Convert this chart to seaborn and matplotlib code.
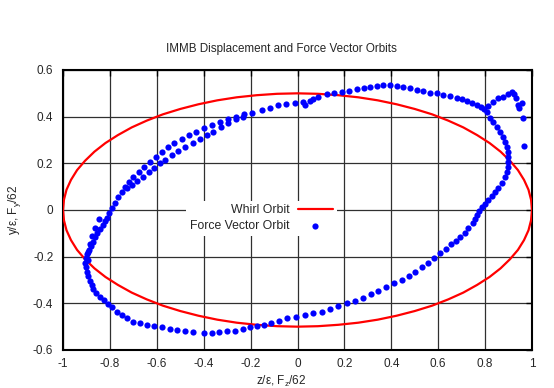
import numpy as np
import pandas as pd
import matplotlib
matplotlib.use("Agg")
import matplotlib.pyplot as plt
import seaborn as sns

# ---------------- data ----------------
whirl_z = [1.000, 0.996, 0.985, 0.966, 0.940, 0.906, 0.866, 0.819, 0.766, 0.707,
           0.643, 0.574, 0.500, 0.423, 0.342, 0.259, 0.174, 0.087, 0.000,
           -0.087, -0.174, -0.259, -0.342, -0.423, -0.500, -0.574, -0.643, -0.707,
           -0.766, -0.819, -0.866, -0.906, -0.940, -0.966, -0.985, -0.996, -1.000,
           -0.996, -0.985, -0.966, -0.940, -0.906, -0.866, -0.819, -0.766, -0.707,
           -0.643, -0.574, -0.500, -0.423, -0.342, -0.259, -0.174, -0.087, 0.000,
           0.087, 0.174, 0.259, 0.342, 0.423, 0.500, 0.574, 0.643, 0.707,
           0.766, 0.819, 0.866, 0.906, 0.940, 0.966, 0.985, 0.996, 1.000]
whirl_y = [0.000, 0.044, 0.087, 0.129, 0.171, 0.211, 0.250, 0.287, 0.321, 0.354,
           0.383, 0.410, 0.433, 0.453, 0.470, 0.483, 0.492, 0.498, 0.500,
           0.498, 0.492, 0.483, 0.470, 0.453, 0.433, 0.410, 0.383, 0.354,
           0.321, 0.287, 0.250, 0.211, 0.171, 0.129, 0.087, 0.044, 0.000,
           -0.044, -0.087, -0.129, -0.171, -0.211, -0.250, -0.287, -0.321, -0.354,
           -0.383, -0.410, -0.433, -0.453, -0.470, -0.483, -0.492, -0.498, -0.500,
           -0.498, -0.492, -0.483, -0.470, -0.453, -0.433, -0.410, -0.383, -0.354,
           -0.321, -0.287, -0.250, -0.211, -0.171, -0.129, -0.087, -0.044, 0.000]

force_pts = [
    # upper-left outer row
    (-0.814, -0.036), (-0.804, -0.014), (-0.792, 0.007), (-0.778, 0.031), (-0.764, 0.054),
    (-0.750, 0.078), (-0.734, 0.100), (-0.719, 0.120), (-0.700, 0.140), (-0.676, 0.164),
    (-0.653, 0.183), (-0.629, 0.206), (-0.603, 0.226), (-0.578, 0.249), (-0.554, 0.270),
    (-0.525, 0.288), (-0.494, 0.304), (-0.463, 0.321), (-0.433, 0.333), (-0.399, 0.350),
    (-0.366, 0.364), (-0.330, 0.378), (-0.295, 0.391), (-0.262, 0.400), (-0.228, 0.410),
    # upper-left inner row
    (-0.728, 0.093), (-0.707, 0.107), (-0.683, 0.124), (-0.658, 0.143), (-0.632, 0.162),
    (-0.611, 0.179), (-0.586, 0.200), (-0.565, 0.214), (-0.536, 0.234), (-0.508, 0.252),
    (-0.480, 0.270), (-0.447, 0.286), (-0.416, 0.304), (-0.387, 0.321), (-0.359, 0.336),
    (-0.328, 0.354), (-0.295, 0.372), (-0.262, 0.389), (-0.231, 0.400), (-0.195, 0.414),
    # top
    (-0.153, 0.429), (-0.117, 0.438), (-0.082, 0.449), (-0.049, 0.453), (-0.011, 0.457),
    (0.022, 0.462), (0.030, 0.452), (0.053, 0.469), (0.065, 0.474), (0.089, 0.486),
    (0.125, 0.496), (0.157, 0.501), (0.188, 0.506), (0.220, 0.510), (0.252, 0.517),
    (0.284, 0.524), (0.309, 0.529), (0.338, 0.531), (0.366, 0.534), (0.394, 0.536),
    (0.423, 0.533), (0.451, 0.529), (0.480, 0.523), (0.508, 0.514), (0.537, 0.509),
    (0.565, 0.503), (0.594, 0.500), (0.622, 0.494), (0.650, 0.490), (0.679, 0.481),
    (0.700, 0.474), (0.722, 0.466), (0.743, 0.457), (0.764, 0.449), (0.781, 0.440),
    (0.795, 0.432), (0.807, 0.420),
    # cusp
    (0.814, 0.446), (0.835, 0.464), (0.856, 0.479), (0.878, 0.486), (0.899, 0.497),
    (0.913, 0.507), (0.923, 0.497), (0.932, 0.479), (0.942, 0.450), (0.956, 0.457),
    (0.945, 0.437), (0.963, 0.396), (0.967, 0.274),
    # right side
    (0.821, 0.393), (0.835, 0.378), (0.849, 0.357), (0.864, 0.336), (0.875, 0.314),
    (0.885, 0.293), (0.892, 0.271), (0.896, 0.250), (0.899, 0.228), (0.899, 0.207),
    (0.896, 0.186), (0.892, 0.165), (0.885, 0.143), (0.871, 0.114), (0.856, 0.093),
    (0.842, 0.077), (0.828, 0.062), (0.814, 0.043), (0.800, 0.026), (0.786, 0.012),
    (0.775, -0.003), (0.767, -0.021), (0.757, -0.040), (0.747, -0.057), (0.728, -0.078),
    (0.714, -0.097), (0.693, -0.117), (0.676, -0.132), (0.653, -0.147), (0.633, -0.167),
    (0.608, -0.186), (0.582, -0.207), (0.558, -0.226), (0.530, -0.246), (0.501, -0.264),
    (0.477, -0.283), (0.444, -0.300), (0.412, -0.314), (0.377, -0.329), (0.345, -0.346),
    (0.312, -0.361), (0.281, -0.376),
    # bottom
    (0.245, -0.390), (0.210, -0.400), (0.174, -0.411), (0.139, -0.424), (0.103, -0.436),
    (0.067, -0.443), (0.032, -0.450), (-0.006, -0.457), (-0.043, -0.462), (-0.078, -0.474),
    (-0.113, -0.483), (-0.143, -0.493), (-0.171, -0.497), (-0.203, -0.503), (-0.234, -0.510),
    (-0.267, -0.517), (-0.299, -0.517), (-0.333, -0.523), (-0.366, -0.527), (-0.399, -0.527),
    (-0.447, -0.522), (-0.480, -0.519), (-0.513, -0.514), (-0.544, -0.510), (-0.579, -0.503),
    (-0.611, -0.497), (-0.641, -0.493), (-0.672, -0.486), (-0.700, -0.479), (-0.728, -0.464),
    (-0.750, -0.450), (-0.771, -0.436), (-0.792, -0.417), (-0.807, -0.403), (-0.824, -0.386),
    # left side
    (-0.842, -0.374), (-0.861, -0.357), (-0.871, -0.340), (-0.878, -0.321), (-0.885, -0.303),
    (-0.892, -0.283), (-0.899, -0.264), (-0.903, -0.243), (-0.906, -0.226), (-0.902, -0.207),
    (-0.896, -0.189), (-0.889, -0.171), (-0.882, -0.154), (-0.873, -0.136), (-0.864, -0.117),
    (-0.854, -0.100), (-0.842, -0.083), (-0.831, -0.064), (-0.821, -0.046),
    (-0.895, -0.215), (-0.893, -0.180), (-0.885, -0.145), (-0.875, -0.110), (-0.862, -0.075),
    (-0.848, -0.040),
]
force_z = [p[0] for p in force_pts]
force_y = [p[1] for p in force_pts]

x_ticks = [-1, -0.8, -0.6, -0.4, -0.2, 0, 0.2, 0.4, 0.6, 0.8, 1]
x_tick_labels = ["-1", "-0.8", "-0.6", "-0.4", "-0.2", "0", "0.2", "0.4", "0.6", "0.8", "1"]
y_ticks = [-0.6, -0.4, -0.2, 0, 0.2, 0.4, 0.6]
y_tick_labels = ["-0.6", "-0.4", "-0.2", "0", "0.2", "0.4", "0.6"]

# ---------------- style ----------------
sns.set_style("white")
plt.rcParams['font.family'] = ['Liberation Sans', 'DejaVu Sans']
plt.rcParams['mathtext.fontset'] = 'custom'
plt.rcParams['mathtext.rm'] = 'Liberation Sans'
plt.rcParams['mathtext.it'] = 'Liberation Sans'

fig = plt.figure(figsize=(5.54, 3.88), dpi=100)
ax = fig.add_axes([63 / 554, 1 - 350 / 388, 469 / 554, 280 / 388])

whirl_df = pd.DataFrame({"z": whirl_z, "y": whirl_y})
force_df = pd.DataFrame({"z": force_z, "y": force_y})

ax.set_axisbelow(True)
ax.grid(True, color="#303030", lw=0.9)

sns.lineplot(data=whirl_df, x="z", y="y", sort=False, estimator=None,
             color="#ff0000", lw=1.6, ax=ax, label="Whirl Orbit", zorder=3)
sns.scatterplot(data=force_df, x="z", y="y", color="#0000ff", s=20,
                linewidth=0, ax=ax, label="Force Vector Orbit", zorder=4)

ax.set_xlim(-1, 1)
ax.set_ylim(-0.6, 0.6)
ax.set_xticks(x_ticks)
ax.set_xticklabels(x_tick_labels)
ax.set_yticks(y_ticks)
ax.set_yticklabels(y_tick_labels)
ax.tick_params(axis="both", which="both", direction="in", length=4, width=1,
               labelsize=8.5, top=True, right=True, color="black")
ax.tick_params(axis="x", pad=6)
ax.tick_params(axis="y", pad=7)
for sp in ax.spines.values():
    sp.set_visible(True)
    sp.set_color("black")
    sp.set_linewidth(1.5)

ax.set_xlabel(r"z/ε, F$_{\rm z}$/62", fontsize=8.5, labelpad=2)
ax.xaxis.set_label_coords(0.465, -0.085)
ax.set_ylabel(r"y/ε, F$_{\rm y}$/62", fontsize=8.5, labelpad=7)
ax.set_title("IMMB Displacement and Force Vector Orbits", fontsize=8.4, pad=13, x=0.465)

handles, labels = ax.get_legend_handles_labels()
leg = ax.legend(handles, labels, loc="upper right", bbox_to_anchor=(0.5836, 0.533),
                frameon=True, markerfirst=False, fontsize=8.8, handlelength=2.9,
                handletextpad=0.65, borderpad=0.3, borderaxespad=0, labelspacing=0.3,
                scatterpoints=1, fancybox=False, framealpha=1)
leg.get_frame().set_facecolor("white")
leg.get_frame().set_linewidth(0)

fig.savefig("out.png", dpi=100)
